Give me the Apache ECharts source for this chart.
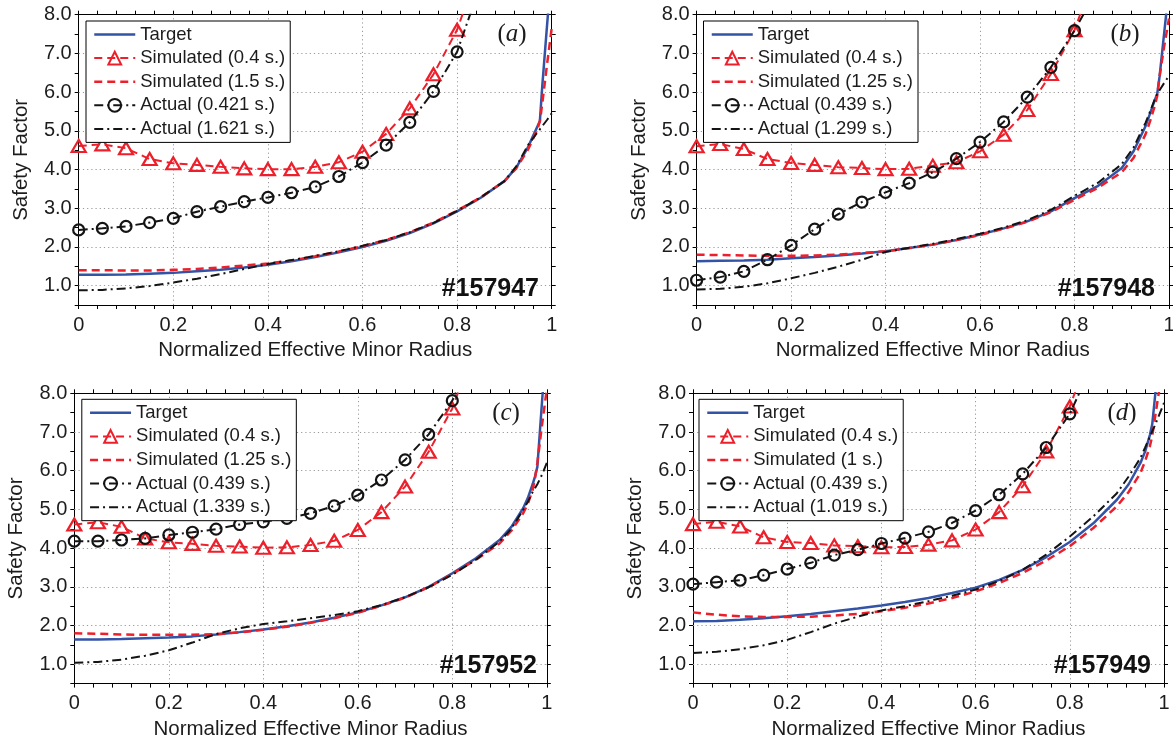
<!DOCTYPE html>
<html>
<head>
<meta charset="utf-8">
<script src="https://cdn.jsdelivr.net/npm/echarts@6/dist/echarts.min.js"></script>
<style>
  html, body { margin: 0; padding: 0; background: #fff; }
  #chart { width: 1173px; height: 742px; }
</style>
</head>
<body>
<div id="chart"></div>
<script>
// Normalized effective minor radius: marker profiles (0.05 steps) and dense profiles
const RHO_PTS = [0, 0.05, 0.1, 0.15, 0.2, 0.25, 0.3, 0.35, 0.4, 0.45, 0.5, 0.55, 0.6, 0.65, 0.7, 0.75, 0.8, 0.85];
const RHO = [0, 0.05, 0.1, 0.15, 0.2, 0.25, 0.3, 0.35, 0.4, 0.45, 0.5, 0.55, 0.6, 0.65, 0.7, 0.75, 0.8, 0.85, 0.9, 0.925, 0.95, 0.96, 0.97, 0.975, 0.98, 0.99, 1.0];

// Axis ticks
const X_TICK_LABELS = ['0', '0.2', '0.4', '0.6', '0.8', '1'];
const Y_TICK_LABELS = ['1.0', '2.0', '3.0', '4.0', '5.0', '6.0', '7.0', '8.0'];
const X_GRID = [0.2, 0.4, 0.6, 0.8];
const Y_GRID = [1, 2, 3, 4, 5, 6, 7];

// (a) shot #157947
const A_SHOT = '#157947';
const A_NAMES = ['Target', 'Simulated (0.4 s.)', 'Simulated (1.5 s.)', 'Actual (0.421 s.)', 'Actual (1.621 s.)'];
const A_TARGET = [1.28, 1.28, 1.29, 1.31, 1.33, 1.37, 1.41, 1.47, 1.54, 1.63, 1.74, 1.86, 2.00, 2.16, 2.36, 2.61, 2.92, 3.27, 3.70, 4.05, 4.58, 4.85, 5.12, 5.25, 6.15, 7.70, 9.20];
const A_SIM_START = [4.61, 4.65, 4.55, 4.27, 4.16, 4.12, 4.07, 4.03, 4.01, 4.01, 4.07, 4.19, 4.46, 4.92, 5.58, 6.46, 7.61, 9.35];
const A_SIM_END = [1.40, 1.40, 1.39, 1.39, 1.41, 1.43, 1.47, 1.52, 1.57, 1.65, 1.76, 1.88, 2.02, 2.18, 2.38, 2.63, 2.94, 3.28, 3.70, 4.03, 4.52, 4.78, 5.05, 5.25, 5.70, 6.70, 7.65];
const A_ACT_START = [2.44, 2.48, 2.53, 2.63, 2.74, 2.91, 3.04, 3.17, 3.28, 3.40, 3.55, 3.82, 4.18, 4.63, 5.22, 6.02, 7.04, 8.80];
const A_ACT_END = [0.88, 0.89, 0.93, 0.99, 1.08, 1.18, 1.30, 1.43, 1.56, 1.66, 1.77, 1.89, 2.03, 2.18, 2.38, 2.62, 2.93, 3.28, 3.70, 4.08, 4.63, 4.80, 4.96, 5.04, 5.12, 5.28, 5.45];

// (b) shot #157948
const B_SHOT = '#157948';
const B_NAMES = ['Target', 'Simulated (0.4 s.)', 'Simulated (1.25 s.)', 'Actual (0.439 s.)', 'Actual (1.299 s.)'];
const B_TARGET = [1.63, 1.64, 1.65, 1.67, 1.71, 1.74, 1.78, 1.83, 1.89, 1.97, 2.06, 2.18, 2.32, 2.48, 2.66, 2.92, 3.26, 3.58, 4.04, 4.47, 5.11, 5.45, 5.80, 5.95, 6.40, 7.55, 8.70];
const B_SIM_START = [4.60, 4.66, 4.53, 4.27, 4.17, 4.12, 4.06, 4.04, 4.01, 4.02, 4.10, 4.19, 4.47, 4.90, 5.54, 6.47, 7.60, 9.30];
const B_SIM_END = [1.80, 1.79, 1.78, 1.77, 1.77, 1.78, 1.80, 1.84, 1.89, 1.97, 2.06, 2.18, 2.31, 2.47, 2.65, 2.90, 3.22, 3.53, 3.93, 4.30, 4.90, 5.25, 5.65, 5.90, 6.40, 7.20, 7.90];
const B_ACT_START = [1.14, 1.22, 1.37, 1.67, 2.04, 2.46, 2.85, 3.16, 3.41, 3.65, 3.93, 4.28, 4.71, 5.23, 5.87, 6.64, 7.59, 8.70];
const B_ACT_END = [0.90, 0.92, 0.97, 1.06, 1.19, 1.33, 1.49, 1.67, 1.87, 1.98, 2.08, 2.20, 2.34, 2.50, 2.69, 2.96, 3.32, 3.66, 4.14, 4.57, 5.20, 5.50, 5.82, 5.95, 6.05, 6.24, 6.42];

// (c) shot #157952
const C_SHOT = '#157952';
const C_NAMES = ['Target', 'Simulated (0.4 s.)', 'Simulated (1.25 s.)', 'Actual (0.439 s.)', 'Actual (1.339 s.)'];
const C_TARGET = [1.64, 1.64, 1.65, 1.67, 1.69, 1.72, 1.77, 1.83, 1.90, 1.98, 2.08, 2.20, 2.34, 2.52, 2.73, 3.00, 3.35, 3.74, 4.21, 4.55, 5.03, 5.30, 5.65, 5.85, 6.10, 7.80, 9.40];
const C_SIM_START = [4.61, 4.67, 4.55, 4.25, 4.15, 4.11, 4.06, 4.04, 4.01, 4.02, 4.08, 4.19, 4.47, 4.93, 5.59, 6.49, 7.61, 9.30];
const C_SIM_END = [1.80, 1.79, 1.77, 1.76, 1.76, 1.76, 1.78, 1.82, 1.89, 1.97, 2.07, 2.19, 2.33, 2.51, 2.72, 2.99, 3.33, 3.70, 4.12, 4.45, 4.90, 5.15, 5.50, 5.80, 6.20, 7.20, 8.10];
const C_ACT_START = [4.18, 4.18, 4.21, 4.25, 4.34, 4.41, 4.49, 4.61, 4.68, 4.77, 4.90, 5.09, 5.37, 5.76, 6.28, 6.94, 7.81, 9.20];
const C_ACT_END = [1.04, 1.06, 1.12, 1.22, 1.36, 1.56, 1.78, 1.93, 2.04, 2.11, 2.19, 2.27, 2.37, 2.53, 2.73, 2.99, 3.31, 3.70, 4.17, 4.50, 4.99, 5.20, 5.45, 5.55, 5.65, 5.90, 6.20];

// (d) shot #157949
const D_SHOT = '#157949';
const D_NAMES = ['Target', 'Simulated (0.4 s.)', 'Simulated (1 s.)', 'Actual (0.439 s.)', 'Actual (1.019 s.)'];
const D_TARGET = [2.11, 2.12, 2.15, 2.19, 2.24, 2.30, 2.37, 2.44, 2.52, 2.61, 2.71, 2.84, 2.98, 3.18, 3.44, 3.77, 4.16, 4.64, 5.25, 5.65, 6.20, 6.50, 6.92, 7.20, 7.80, 9.00, 10.00];
const D_SIM_START = [4.62, 4.68, 4.56, 4.28, 4.16, 4.13, 4.07, 4.05, 4.02, 4.03, 4.09, 4.20, 4.48, 4.93, 5.60, 6.50, 7.66, 9.30];
const D_SIM_END = [2.34, 2.28, 2.24, 2.22, 2.22, 2.23, 2.26, 2.30, 2.37, 2.46, 2.57, 2.71, 2.88, 3.10, 3.36, 3.68, 4.05, 4.52, 5.08, 5.45, 5.94, 6.25, 6.63, 6.90, 7.30, 8.10, 9.00];
const D_ACT_START = [3.07, 3.12, 3.17, 3.30, 3.46, 3.62, 3.82, 3.96, 4.12, 4.26, 4.42, 4.65, 4.97, 5.38, 5.92, 6.60, 7.47, 8.80];
const D_ACT_END = [1.29, 1.32, 1.39, 1.49, 1.63, 1.83, 2.05, 2.23, 2.39, 2.50, 2.63, 2.77, 2.93, 3.15, 3.44, 3.83, 4.30, 4.82, 5.42, 5.85, 6.33, 6.60, 6.88, 7.02, 7.15, 7.45, 7.75];

// ---- styling and layout ----
const FONT = 'Liberation Sans';
const INK = '#1c1c1c';
const BLUE = '#3353a6';
const RED = '#ed1f2a';
const BLACK = '#141414';
const GRID_COLOR = '#9a9a9a';
const DASH = [8, 5];
const DASH_DOT = [9, 4, 2, 4];
const CLEAR = 'rgba(0,0,0,0)';

const LAYOUT = [
  { grid: [78.7, 14.7, 473, 290.3], legend: [86, 21], tag: [512, 34], shot: [539, 289] },
  { grid: [696.6, 14.7, 472.4, 290.3], legend: [703.5, 21], tag: [1125, 34], shot: [1155, 289] },
  { grid: [74.3, 393.3, 472.5, 290.3], legend: [81.8, 399.3], tag: [506, 413], shot: [537, 666] },
  { grid: [693, 393.3, 471, 290.3], legend: [699, 399.3], tag: [1122, 413], shot: [1151, 666] }
];

const PANELS = [
  { tag: 'a', shot: A_SHOT, names: A_NAMES, target: A_TARGET, simStart: A_SIM_START, simEnd: A_SIM_END, actStart: A_ACT_START, actEnd: A_ACT_END },
  { tag: 'b', shot: B_SHOT, names: B_NAMES, target: B_TARGET, simStart: B_SIM_START, simEnd: B_SIM_END, actStart: B_ACT_START, actEnd: B_ACT_END },
  { tag: 'c', shot: C_SHOT, names: C_NAMES, target: C_TARGET, simStart: C_SIM_START, simEnd: C_SIM_END, actStart: C_ACT_START, actEnd: C_ACT_END },
  { tag: 'd', shot: D_SHOT, names: D_NAMES, target: D_TARGET, simStart: D_SIM_START, simEnd: D_SIM_END, actStart: D_ACT_START, actEnd: D_ACT_END }
];

const pairs = (xs, ys) => xs.map((x, i) => [x, ys[i]]);
const near = (a, b) => Math.abs(a - b) < 1e-6;

function xLabel(v) {
  const k = Math.round(v / 0.2);
  return near(v, k * 0.2) ? X_TICK_LABELS[k] : '';
}
function yLabel(v) {
  const k = Math.round(v);
  return near(v, k) && k >= 1 ? Y_TICK_LABELS[k - 1] : '';
}

const tickStyle = { show: true, length: 4, inside: false, lineStyle: { color: '#000', width: 1 } };
const lineAxis = { show: true, onZero: false, lineStyle: { color: '#000', width: 1 } };

const option = {
  animation: false,
  backgroundColor: '#fff',
  textStyle: { fontFamily: FONT },
  grid: [], xAxis: [], yAxis: [], legend: [], series: [], graphic: []
};

PANELS.forEach((p, i) => {
  const L = LAYOUT[i];
  option.grid.push({
    left: L.grid[0], top: L.grid[1], width: L.grid[2], height: L.grid[3],
    containLabel: false, outerBoundsMode: 'none', show: false
  });

  // bottom / left axes with labels, top / right mirrors with ticks only
  option.xAxis.push({
    gridIndex: i, type: 'value', position: 'bottom', min: 0, max: 1, interval: 0.04,
    name: 'Normalized Effective Minor Radius', nameLocation: 'middle', nameGap: 35,
    nameMoveOverlap: false,
    nameTextStyle: { fontFamily: FONT, fontSize: 20.5, color: INK },
    axisLine: lineAxis, axisTick: tickStyle,
    axisLabel: { show: true, margin: 10, fontFamily: FONT, fontSize: 20, color: INK, formatter: xLabel, hideOverlap: false },
    splitLine: { show: false }
  });
  option.xAxis.push({
    gridIndex: i, type: 'value', position: 'top', min: 0, max: 1, interval: 0.04,
    axisLine: lineAxis, axisTick: tickStyle, axisLabel: { show: false }, splitLine: { show: false }
  });
  option.yAxis.push({
    gridIndex: i, type: 'value', position: 'left', min: 0.5, max: 8, interval: 0.5,
    name: 'Safety Factor', nameLocation: 'middle', nameGap: 47,
    nameMoveOverlap: false,
    nameTextStyle: { fontFamily: FONT, fontSize: 20.5, color: INK },
    axisLine: lineAxis, axisTick: tickStyle,
    axisLabel: { show: true, margin: 7, fontFamily: FONT, fontSize: 20, color: INK, formatter: yLabel, hideOverlap: false },
    splitLine: { show: false }
  });
  option.yAxis.push({
    gridIndex: i, type: 'value', position: 'right', min: 0.5, max: 8, interval: 0.5,
    axisLine: lineAxis, axisTick: tickStyle, axisLabel: { show: false }, splitLine: { show: false }
  });

  const xi = 2 * i, yi = 2 * i;
  const base = { type: 'line', xAxisIndex: xi, yAxisIndex: yi, silent: true, clip: true, emphasis: { disabled: true } };

  option.series.push(Object.assign({}, base, {
    name: p.names[0], data: pairs(RHO, p.target), symbol: 'none', z: 3,
    itemStyle: { color: BLUE },
    lineStyle: { color: BLUE, width: 2.5, type: 'solid' },
    markLine: {
      silent: true, symbol: 'none', z: 1, animation: false,
      label: { show: false },
      lineStyle: { color: GRID_COLOR, width: 1, type: [1.2, 3] },
      emphasis: { disabled: true },
      data: Y_GRID.map(v => ({ yAxis: v })).concat(X_GRID.map(v => ({ xAxis: v })))
    }
  }));
  option.series.push(Object.assign({}, base, {
    name: p.names[1], data: pairs(RHO_PTS, p.simStart), z: 4,
    symbol: 'triangle', symbolSize: [14, 12], showSymbol: true,
    itemStyle: { color: CLEAR, borderColor: RED, borderWidth: 2.2 },
    lineStyle: { color: RED, width: 2, type: DASH }
  }));
  option.series.push(Object.assign({}, base, {
    name: p.names[2], data: pairs(RHO, p.simEnd), symbol: 'none', z: 5,
    itemStyle: { color: RED },
    lineStyle: { color: RED, width: 2.5, type: DASH }
  }));
  option.series.push(Object.assign({}, base, {
    name: p.names[3], data: pairs(RHO_PTS, p.actStart), z: 6,
    symbol: 'circle', symbolSize: 11, showSymbol: true,
    itemStyle: { color: CLEAR, borderColor: BLACK, borderWidth: 2.2 },
    lineStyle: { color: BLACK, width: 2, type: DASH_DOT }
  }));
  option.series.push(Object.assign({}, base, {
    name: p.names[4], data: pairs(RHO, p.actEnd), symbol: 'none', z: 7,
    itemStyle: { color: BLACK },
    lineStyle: { color: BLACK, width: 2, type: DASH_DOT }
  }));

  const noMark = { color: CLEAR, borderColor: CLEAR, borderWidth: 0 };
  option.legend.push({
    left: L.legend[0], top: L.legend[1], orient: 'vertical',
    selectedMode: false, z: 10,
    backgroundColor: '#fff', borderColor: '#000', borderWidth: 1, borderRadius: 0,
    padding: [4, 5, 4, 7], itemGap: 4.6, itemWidth: 41, itemHeight: 16,
    textStyle: { fontFamily: FONT, fontSize: 18.5, color: INK },
    lineStyle: { width: 'inherit' },
    data: [
      { name: p.names[0], itemStyle: noMark },
      { name: p.names[1] },
      { name: p.names[2], itemStyle: noMark },
      { name: p.names[3] },
      { name: p.names[4], itemStyle: noMark }
    ]
  });

  option.graphic.push({
    type: 'text', x: L.tag[0], y: L.tag[1], silent: true, z: 20,
    style: {
      text: '{p|(}{i|' + p.tag + '}{p|)}',
      align: 'center', verticalAlign: 'middle',
      rich: {
        p: { fontFamily: 'Liberation Serif', fontSize: 25, fill: INK, color: INK },
        i: { fontFamily: 'Liberation Serif', fontStyle: 'italic', fontSize: 25, fill: INK, color: INK }
      }
    }
  });
  option.graphic.push({
    type: 'text', x: L.shot[0], y: L.shot[1], silent: true, z: 20,
    style: {
      text: p.shot, fontFamily: FONT, fontWeight: 'bold', fontSize: 25, fill: '#111',
      align: 'right', verticalAlign: 'middle'
    }
  });
});

const chart = echarts.init(document.getElementById('chart'), null, { renderer: 'canvas' });
chart.setOption(option);
</script>
</body>
</html>
